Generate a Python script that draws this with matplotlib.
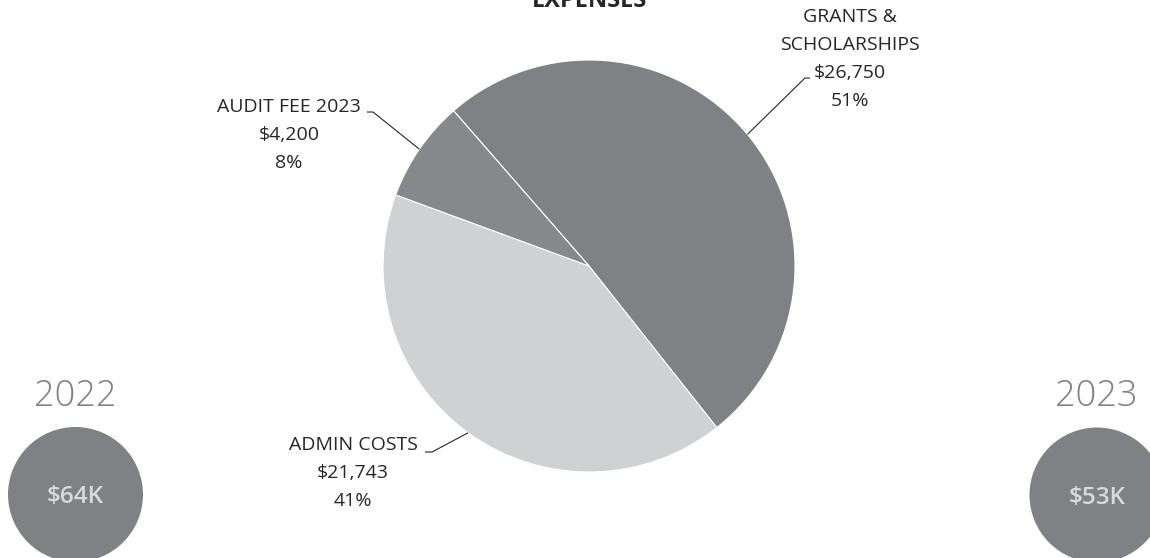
import numpy as np
import matplotlib
matplotlib.use("Agg")
import matplotlib.pyplot as plt
from matplotlib.patches import Circle

# Expense breakdown
categories = [["GRANTS &", "SCHOLARSHIPS"], ["ADMIN COSTS"], ["AUDIT FEE 2023"]]
amounts = [26750, 21743, 4200]
percents = ["51%", "41%", "8%"]
colors = ["#808184", "#d0d1d3", "#87888b"]

# Yearly totals
years = ["2022", "2023"]
totals = ["$64K", "$53K"]

W, H = 1150, 558
fig = plt.figure(figsize=(W / 100, H / 100), dpi=100)
ax = fig.add_axes([0, 0, 1, 1])

font = "Open Sans"
cx, cy, r = 589, H - 266, 206
wedges, _ = ax.pie(amounts, colors=colors, startangle=131.1, counterclock=False,
                   center=(cx, cy), radius=r, frame=True,
                   wedgeprops=dict(edgecolor="white", linewidth=0.8))
ax.set_xlim(0, W)
ax.set_ylim(0, H)
ax.set_aspect("equal")
ax.axis("off")

ax.text(590, H - 7, "EXPENSES", ha="center", va="baseline", fontsize=17,
        fontweight="bold", color="#262626", family=font)

# text block center x, first baseline y, leader elbow and end points
label_pos = [
    dict(x=850, y=H - 22, elbow=(805, H - 78), end=(810, H - 78)),
    dict(x=353, y=H - 450, elbow=(432, H - 452), end=(425, H - 452)),
    dict(x=289, y=H - 112, elbow=(373, H - 112), end=(367, H - 112)),
]
step = 28

for w, cat, amt, pct, lp in zip(wedges, categories, amounts, percents, label_pos):
    mid = np.deg2rad((w.theta1 + w.theta2) / 2)
    px, py = cx + r * np.cos(mid), cy + r * np.sin(mid)
    lines = cat + [f"${amt:,}", pct]
    for i, line in enumerate(lines):
        ax.text(lp["x"], lp["y"] - i * step, line, ha="center", va="baseline",
                fontsize=14, color="#262626", family=font)
    ax.plot([px, lp["elbow"][0], lp["end"][0]], [py, lp["elbow"][1], lp["end"][1]],
            color="#262626", lw=0.8, solid_capstyle="butt")

# yearly total bubbles
bubble_centers = [(75.5, H - 494.5), (1097, H - 495)]
year_x = [75, 1096]
for (bx, by), yx, yr, tot in zip(bubble_centers, year_x, years, totals):
    ax.add_patch(Circle((bx, by), 67.5, color="#808184", lw=0))
    ax.text(bx, by - 3, tot, ha="center", va="center", fontsize=17.5, fontweight="semibold",
            color="#d9dadb", family=font)
    ax.text(yx, H - 397, yr, ha="center", va="center", fontsize=26, fontweight="light",
            color="#808184", family=font)

fig.savefig("out.png", dpi=100, facecolor="white")
